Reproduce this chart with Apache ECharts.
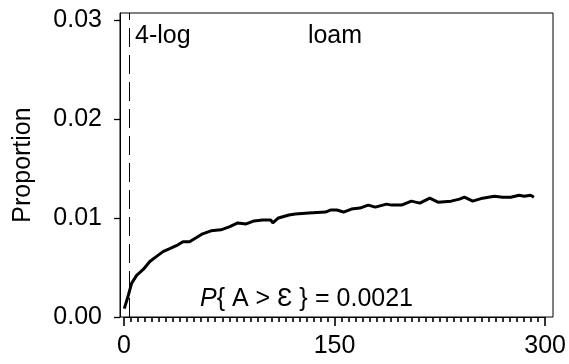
<!DOCTYPE html>
<html>
<head>
<meta charset="utf-8">
<script src="https://cdn.jsdelivr.net/npm/echarts@6/dist/echarts.min.js"></script>
<style>html,body{margin:0;padding:0;background:#fff;}#c{width:569px;height:364px;}</style>
</head>
<body>
<div id="c"></div>
<script>
const xValues = [0.2, 3.1, 5.4, 9, 13.7, 18.4, 23, 27.8, 32.6, 37.3, 42, 46.7, 51.4, 56, 62, 69, 75, 81, 87, 92.7, 98.6, 104.5, 106, 110, 117.5, 122, 131.6, 143.5, 147, 151.6, 156.4, 162, 168, 174, 179, 187, 190.6, 197.7, 204.7, 210.7, 217.8, 223.6, 233, 239, 242.5, 248.4, 255.5, 263.8, 269.6, 275.5, 281.5, 285, 289.7, 292];
const yValues = [0.00085, 0.0022, 0.0034, 0.0042, 0.0048, 0.0056, 0.0061, 0.0066, 0.0069, 0.0072, 0.0076, 0.0076, 0.0080, 0.0084, 0.0087, 0.0088, 0.0091, 0.0095, 0.0094, 0.0097, 0.0098, 0.0098, 0.0095, 0.0100, 0.0103, 0.0104, 0.0105, 0.0106, 0.0108, 0.0108, 0.0106, 0.0109, 0.0110, 0.0113, 0.0111, 0.0114, 0.0113, 0.0113, 0.0117, 0.0115, 0.0120, 0.0116, 0.0117, 0.0119, 0.0121, 0.0117, 0.0120, 0.0122, 0.0121, 0.0121, 0.0123, 0.0122, 0.0123, 0.0121];
const xMin = 0, xMax = 300, xInterval = 150, xMinorStep = 5;
const yTicks = [0, 0.01, 0.02, 0.03];
const cutoffX = 4;
const cutoffLabel = '4-log';
const panelLabel = 'loam';
const yName = 'Proportion';
const probLeft = '{i|P}{ A > Ɛ }';
const probRight = '= 0.0021';

const FONT = 'Liberation Sans';
const FS = 25;
const chart = echarts.init(document.getElementById('c'), null, {renderer: 'canvas'});
chart.setOption({
  animation: false,
  backgroundColor: '#fff',
  grid: [
    {left: 124, top: 13, width: 423, height: 304, show: false},
    {left: 120, top: 13, width: 433, height: 304, show: true, borderColor: '#000', borderWidth: 1, backgroundColor: 'transparent'}
  ],
  xAxis: [{
    gridIndex: 0, type: 'value', min: xMin, max: xMax, interval: xInterval,
    axisLine: {show: true, onZero: false, lineStyle: {color: '#000', width: 1}},
    axisTick: {show: true, length: 9, lineStyle: {color: '#000', width: 1.6}},
    minorTick: {show: true, splitNumber: xInterval / xMinorStep, length: 5, lineStyle: {color: '#000', width: 1.6}},
    axisLabel: {show: true, color: '#000', fontFamily: FONT, fontSize: FS, margin: 17},
    splitLine: {show: false}, minorSplitLine: {show: false}
  }, {
    gridIndex: 1, type: 'value', min: 0, max: 1, show: false
  }],
  yAxis: [{
    gridIndex: 0, type: 'value', min: 0, max: 0.0307, offset: 4,
    name: yName, nameLocation: 'middle', nameGap: 84, nameRotate: 90,
    nameTextStyle: {color: '#000', fontFamily: FONT, fontSize: FS},
    axisLine: {show: true, onZero: false, lineStyle: {color: '#000', width: 1}},
    axisTick: {show: true, customValues: yTicks, length: 6, lineStyle: {color: '#000', width: 1.3}},
    axisLabel: {show: true, customValues: yTicks, color: '#000', fontFamily: FONT, fontSize: FS, margin: 18, formatter: v => v.toFixed(2)},
    splitLine: {show: false}
  }, {
    gridIndex: 1, type: 'value', min: 0, max: 1, show: false
  }],
  series: [{
    type: 'line', xAxisIndex: 0, yAxisIndex: 0, showSymbol: false, silent: true,
    data: xValues.map((x, i) => [x, yValues[i]]),
    lineStyle: {color: '#000', width: 3},
    markLine: {
      silent: true, symbol: 'none', label: {show: false},
      lineStyle: {color: '#000', width: 1, type: [19, 8]},
      data: [{xAxis: cutoffX}]
    }
  }],
  graphic: [
    {type: 'text', left: 135, top: 24, style: {text: cutoffLabel, fill: '#000', font: FS + 'px "' + FONT + '"'}},
    {type: 'text', x: 335, y: 24, style: {text: panelLabel, fill: '#000', font: FS + 'px "' + FONT + '"', align: 'center', verticalAlign: 'top'}},
    {type: 'text', x: 200, y: 299, style: {text: probLeft, fill: '#000', fontFamily: FONT, fontSize: FS, verticalAlign: 'middle', rich: {i: {fontStyle: 'italic', fontFamily: FONT, fontSize: FS, fill: '#000'}}}},
    {type: 'text', x: 315, y: 299, style: {text: probRight, fill: '#000', fontFamily: FONT, fontSize: FS, verticalAlign: 'middle'}}
  ]
});
</script>
</body>
</html>
